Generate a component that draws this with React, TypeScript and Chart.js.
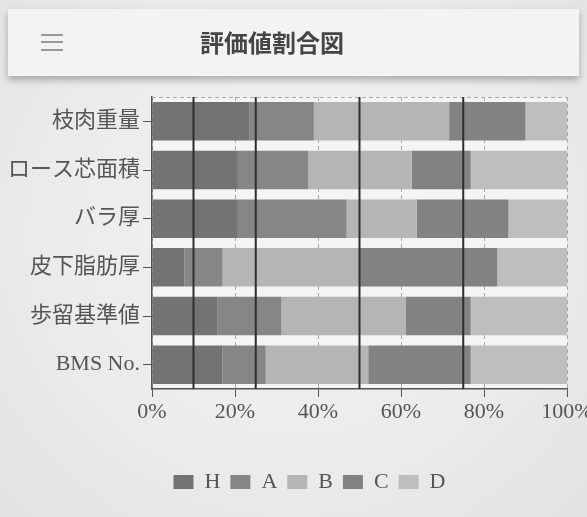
import React, { useEffect, useRef } from "react";
import { Chart, registerables } from "chart.js";

Chart.register(...registerables);

const categories = ["枝肉重量", "ロース芯面積", "バラ厚", "皮下脂肪厚", "歩留基準値", "BMS No."];
const seriesNames = ["H", "A", "B", "C", "D"];
const valuesH = [23.4, 20.7, 20.7, 7.8, 15.7, 17.0];
const valuesA = [15.6, 16.9, 26.2, 9.2, 15.5, 10.4];
const valuesB = [32.6, 25.0, 16.9, 33.0, 30.0, 24.7];
const valuesC = [18.4, 14.2, 22.1, 33.2, 15.6, 24.7];
const valuesD = [10.0, 23.2, 14.1, 16.8, 23.2, 23.2];
const seriesColors = ["#737373", "#868686", "#b5b5b5", "#828282", "#bebebe"];
const markerLines = [10, 25, 50, 75];
const xTickValues = [0, 20, 40, 60, 80, 100];
const titleText = "評価値割合図";

const SERIF = "'Liberation Serif', 'DejaVu Serif', 'Noto Sans CJK JP', serif";

export default function App() {
  const ref = useRef<HTMLCanvasElement | null>(null);

  useEffect(() => {
    if (!ref.current) return;
    const seriesValues = [valuesH, valuesA, valuesB, valuesC, valuesD];
    const overlay = {
      id: "overlay",
      beforeDraw(chart: any) {
        const { ctx, chartArea } = chart;
        if (chart.legend && !chart.legend._shifted) {
          chart.legend.left += 52;
          chart.legend._shifted = true;
        }
        ctx.save();
        ctx.fillStyle = "#f4f4f4";
        ctx.fillRect(chartArea.left, chartArea.top, chartArea.right - chartArea.left, chartArea.bottom - chartArea.top);
        ctx.restore();
      },
      afterDatasetsDraw(chart: any) {
        const { ctx, chartArea } = chart;
        const xs = chart.scales.x;
        ctx.save();
        ctx.strokeStyle = "#aaa";
        ctx.lineWidth = 1;
        ctx.setLineDash([4, 3]);
        ctx.beginPath();
        ctx.moveTo(chartArea.left, chartArea.top + 0.5);
        ctx.lineTo(chartArea.right, chartArea.top + 0.5);
        ctx.stroke();
        ctx.setLineDash([]);
        ctx.strokeStyle = "#2e2e2e";
        ctx.lineWidth = 2;
        for (const v of markerLines) {
          const x = xs.getPixelForValue(v);
          ctx.beginPath();
          ctx.moveTo(x, chartArea.top);
          ctx.lineTo(x, chartArea.bottom);
          ctx.stroke();
        }
        ctx.restore();
      },
    };

    const chart = new Chart(ref.current, {
      type: "bar",
      data: {
        labels: categories,
        datasets: seriesNames.map((n, i) => ({
          label: n,
          data: seriesValues[i],
          backgroundColor: seriesColors[i],
          borderWidth: 0,
          categoryPercentage: 1,
          barPercentage: 0.79,
        })),
      },
      options: {
        indexAxis: "y",
        animation: false,
        responsive: true,
        maintainAspectRatio: false,
        layout: { padding: { top: 17, right: 20, left: 0, bottom: 14 } },
        scales: {
          x: {
            stacked: true,
            min: 0,
            max: 100,
            afterBuildTicks: (s: any) => {
              s.ticks = xTickValues.map((v) => ({ value: v }));
            },
            afterFit: (s: any) => {
              s.height = 72;
              s.paddingLeft = 0;
              s.paddingRight = 0;
            },
            ticks: {
              callback: (v: any) => v + "%",
              font: { family: SERIF, size: 22 },
              color: "#555",
              padding: 2,
              maxRotation: 0,
            },
            grid: { color: "#aaa", tickColor: "#555", tickLength: 8, lineWidth: 1 },
            border: { display: true, color: "#555", width: 1.5, dash: [4, 3] },
          },
          y: {
            stacked: true,
            afterFit: (s: any) => {
              s.width = 152;
              s.paddingTop = 0;
              s.paddingBottom = 0;
            },
            ticks: {
              font: { family: SERIF, size: 22 },
              color: "#555",
              padding: 3,
            },
            grid: { display: true, drawOnChartArea: false, offset: false, tickColor: "#555", tickLength: 9 },
            border: { display: true, color: "#555", width: 1.5 },
          },
        },
        plugins: {
          legend: {
            position: "bottom",
            labels: {
              boxWidth: 20,
              boxHeight: 14,
              padding: 10,
              color: "#555",
              font: { family: SERIF, size: 22 },
            },
          },
          tooltip: { enabled: false },
        },
      },
      plugins: [overlay],
    } as any);
    return () => chart.destroy();
  }, []);

  return (
    <div
      style={{
        position: "fixed",
        left: 0,
        top: 0,
        width: 587,
        height: 517,
        overflow: "hidden",
        background: "radial-gradient(ellipse at 50% 45%, #f3f3f3 0%, #ebebeb 60%, #e2e2e2 100%)",
      }}
    >
      <div
        style={{
          position: "absolute",
          left: 8,
          top: 9,
          width: 571,
          height: 67,
          background: "#f3f3f3",
          boxShadow: "0 4px 7px rgba(0,0,0,0.28)",
        }}
      >
        <div style={{ position: "absolute", left: 33, top: 25, width: 22, height: 2, background: "#9a9a9a" }} />
        <div style={{ position: "absolute", left: 33, top: 32, width: 22, height: 2, background: "#9a9a9a" }} />
        <div style={{ position: "absolute", left: 33, top: 40, width: 22, height: 2, background: "#9a9a9a" }} />
        <div
          style={{
            position: "absolute",
            left: 192,
            top: 17,
            fontFamily: "'Noto Sans CJK JP', 'Noto Sans', sans-serif",
            fontWeight: 700,
            fontSize: 24,
            lineHeight: "32px",
            color: "#454545",
            whiteSpace: "nowrap",
          }}
        >
          {titleText}
        </div>
      </div>
      <div style={{ position: "absolute", left: 0, top: 80, width: 587, height: 437 }}>
        <canvas ref={ref} />
      </div>
    </div>
  );
}
